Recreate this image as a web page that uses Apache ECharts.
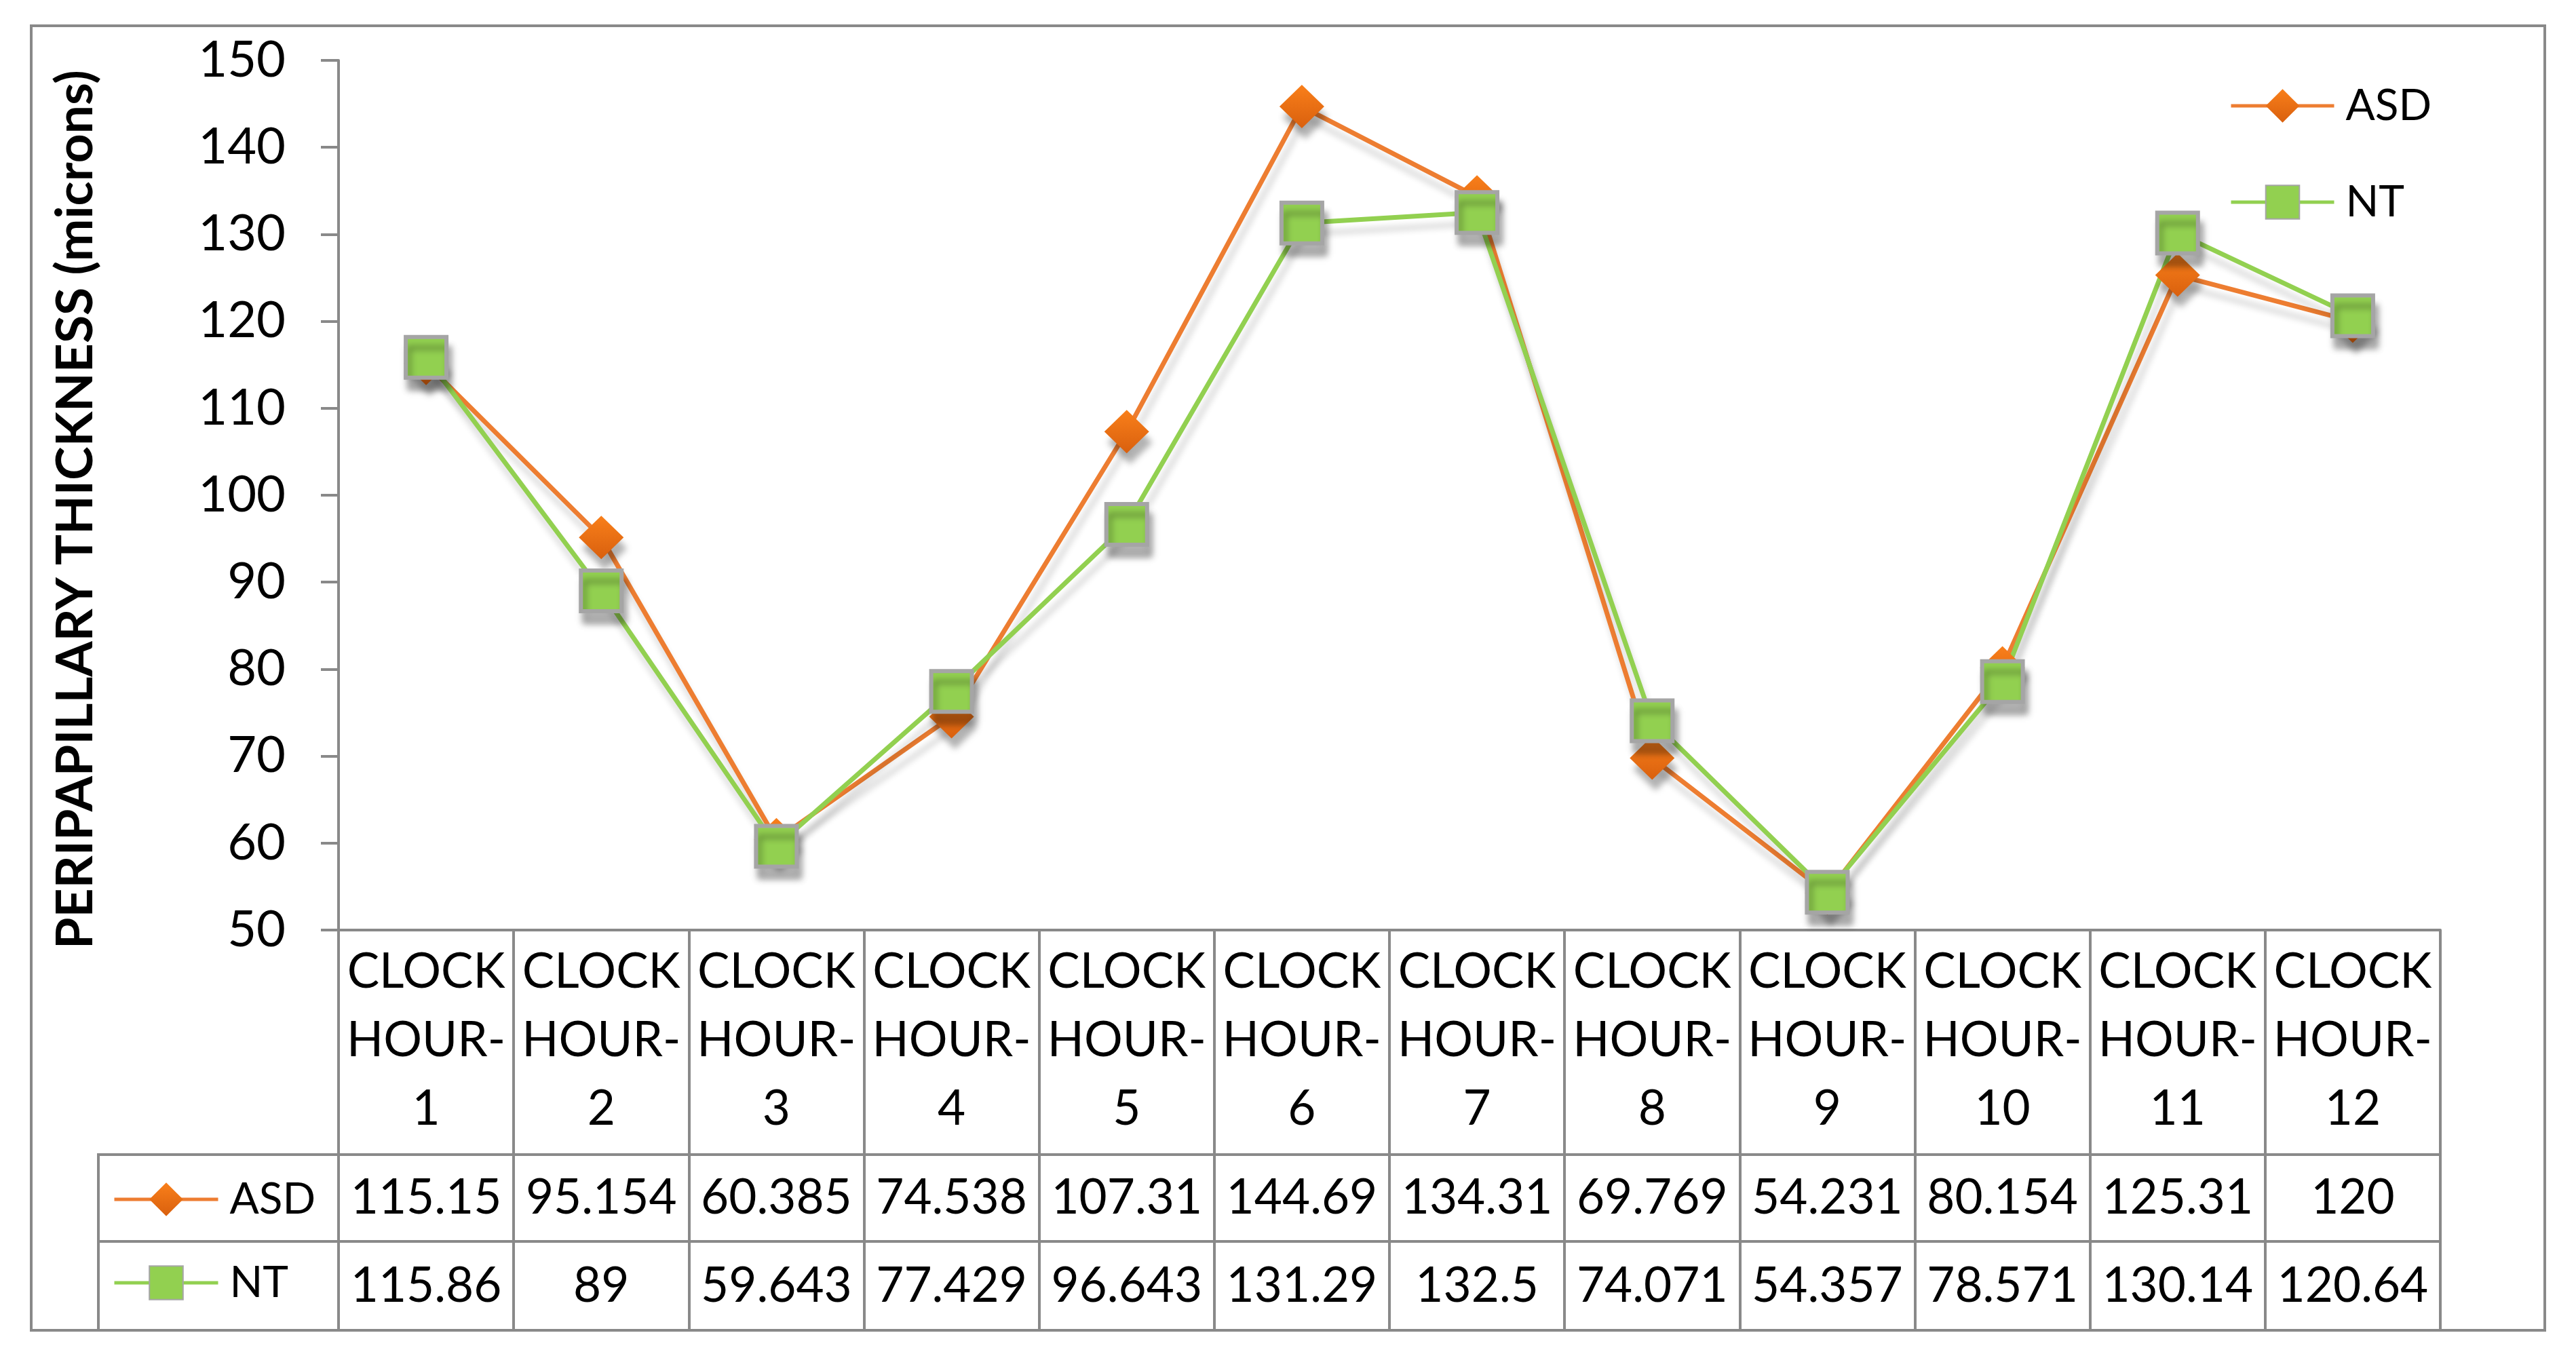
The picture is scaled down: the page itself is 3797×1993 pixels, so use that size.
<!DOCTYPE html>
<html>
<head>
<meta charset="utf-8">
<script src="https://cdn.jsdelivr.net/npm/echarts@6/dist/echarts.min.js"></script>
<style>
  html, body { margin: 0; padding: 0; background: #fff; }
  #chart { width: 3797px; height: 1993px; }
</style>
</head>
<body>
<div id="chart"></div>
<script>
// categories (clock hours) and mean peripapillary thickness, microns
const hours = ['CLOCK HOUR-1', 'CLOCK HOUR-2', 'CLOCK HOUR-3', 'CLOCK HOUR-4', 'CLOCK HOUR-5', 'CLOCK HOUR-6',
  'CLOCK HOUR-7', 'CLOCK HOUR-8', 'CLOCK HOUR-9', 'CLOCK HOUR-10', 'CLOCK HOUR-11', 'CLOCK HOUR-12']
const asdValues = [115.15, 95.154, 60.385, 74.538, 107.31, 144.69, 134.31, 69.769, 54.231, 80.154, 125.31, 120]
const ntValues = [115.86, 89, 59.643, 77.429, 96.643, 131.29, 132.5, 74.071, 54.357, 78.571, 130.14, 120.64]
const seriesNames = ['ASD', 'NT']
const yMin = 50
const yMax = 150
const yStep = 10

const font = 'Lato, "Open Sans", sans-serif'
const grey = '#898989'

// layout of plot + data table
const gridLeft = 499
const gridTop = 89
const gridWidth = 3098
const gridHeight = 1282
const axisY = gridTop + gridHeight      // 1371
const row1 = 1702                       // header / ASD row
const row2 = 1830                       // ASD / NT row
const tableBottom = 1961
const keyLeft = 145

const chart = echarts.init(document.getElementById('chart'))

function tableLine(x1, y1, x2, y2) {
  return { type: 'line', silent: true, shape: { x1, y1, x2, y2 }, style: { stroke: grey, lineWidth: 4 } }
}

const labelStyle = { color: '#000', fontFamily: font, fontSize: 71 }
const shadow = { shadowColor: 'rgba(0,0,0,0.16)', shadowBlur: 10, shadowOffsetX: 5, shadowOffsetY: 16 }

const option = {
  animation: false,
  backgroundColor: '#fff',
  textStyle: { fontFamily: font },
  grid: { left: gridLeft, top: gridTop, width: gridWidth, height: gridHeight },
  legend: [
    {
      data: seriesNames,
      orient: 'vertical',
      left: 3281,
      top: 119,
      itemWidth: 152,
      itemHeight: 62,
      itemGap: 78,
      lineStyle: { width: 5, shadowBlur: 0, shadowOffsetX: 0, shadowOffsetY: 0 },
      itemStyle: { shadowBlur: 0, shadowOffsetX: 0, shadowOffsetY: 0 },
      textStyle: { color: '#000', fontFamily: font, fontSize: 64, lineHeight: 62, padding: [0, 0, 0, 12] }
    },
    {
      data: seriesNames,
      orient: 'vertical',
      left: 161,
      top: 1731,
      itemWidth: 153,
      itemHeight: 62,
      itemGap: 59,
      lineStyle: { width: 5, shadowBlur: 0, shadowOffsetX: 0, shadowOffsetY: 0 },
      itemStyle: { shadowBlur: 0, shadowOffsetX: 0, shadowOffsetY: 0 },
      textStyle: { color: '#000', fontFamily: font, fontSize: 64, lineHeight: 62, padding: [0, 0, 0, 12] }
    }
  ],
  xAxis: [
    {
      type: 'category',
      data: hours,
      boundaryGap: true,
      axisLine: { lineStyle: { color: grey, width: 4 } },
      axisTick: { show: true, inside: false, length: tableBottom - axisY, lineStyle: { color: grey, width: 4 } },
      axisLabel: {
        ...labelStyle,
        interval: 0,
        margin: 12,
        lineHeight: 101,
        verticalAlign: 'top',
        formatter: (v) => v.replace(' ', '\n').replace('-', '-\n')
      }
    },
    {
      type: 'category',
      data: hours,
      position: 'bottom',
      offset: row1 - axisY,
      axisLine: { show: true, lineStyle: { color: grey, width: 4 } },
      axisTick: { show: false },
      axisLabel: { ...labelStyle, interval: 0, margin: 64, verticalAlign: 'middle', formatter: (v, i) => String(asdValues[i]) }
    },
    {
      type: 'category',
      data: hours,
      position: 'bottom',
      offset: row2 - axisY,
      axisLine: { show: true, lineStyle: { color: grey, width: 4 } },
      axisTick: { show: false },
      axisLabel: { ...labelStyle, interval: 0, margin: 66, verticalAlign: 'middle', formatter: (v, i) => String(ntValues[i]) }
    }
  ],
  yAxis: {
    type: 'value',
    min: yMin,
    max: yMax,
    interval: yStep,
    name: 'PERIPAPILLARY THICKNESS (microns)',
    nameLocation: 'middle',
    nameGap: 350,
    nameTextStyle: { color: '#000', fontFamily: font, fontSize: 75, fontWeight: 'bold', padding: [0, 0, 0, -42] },
    axisLine: { show: true, lineStyle: { color: grey, width: 4 } },
    axisTick: { show: true, length: 26, lineStyle: { color: grey, width: 4 } },
    splitLine: { show: false },
    axisLabel: { ...labelStyle, fontSize: 74, margin: 78 }
  },
  graphic: [
    { type: 'rect', silent: true, z: -1, shape: { x: 46, y: 38, width: 3705, height: tableBottom - 38 },
      style: { fill: 'none', stroke: grey, lineWidth: 4 } },
    tableLine(keyLeft, row1, gridLeft, row1),
    tableLine(keyLeft, row2, gridLeft, row2),
    tableLine(keyLeft, row1 - 2, keyLeft, tableBottom)
  ],
  series: [
    {
      name: 'ASD',
      type: 'line',
      data: asdValues,
      symbol: 'diamond',
      symbolSize: [66, 64],
      lineStyle: { color: '#ED7D31', width: 7, ...shadow },
      itemStyle: {
        color: new echarts.graphic.LinearGradient(0, 0, 0, 1, [
          { offset: 0, color: '#F97F1A' },
          { offset: 1, color: '#D9600E' }
        ]),
        ...shadow, shadowColor: 'rgba(0,0,0,0.3)'
      }
    },
    {
      name: 'NT',
      type: 'line',
      data: ntValues,
      symbol: 'rect',
      symbolSize: 60,
      lineStyle: { color: '#92D050', width: 7, ...shadow },
      itemStyle: {
        color: '#92D050', borderColor: '#A5A5A5', borderWidth: 6,
        ...shadow, shadowColor: 'rgba(0,0,0,0.3)'
      }
    }
  ]
}

chart.setOption(option)
</script>
</body>
</html>
